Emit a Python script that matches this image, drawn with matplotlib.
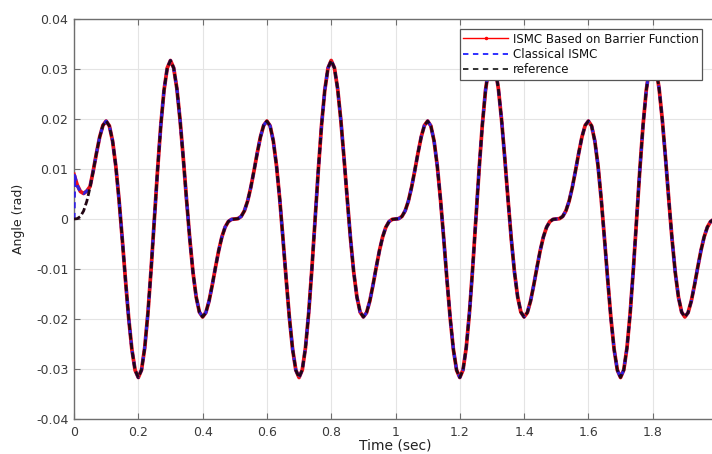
import numpy as np
import matplotlib
matplotlib.use("Agg")
import matplotlib.pyplot as plt
from matplotlib.lines import Line2D

# ---------------- data ----------------
time = np.round(np.arange(0, 2.0001, 0.01), 2)          # s, 0.01 s sampling

# reference angle (rad), sampled every 0.01 s from 0 to 2.0 s
ref_angle = [
    0.00000, 0.00007, 0.00051, 0.00163, 0.00358, 0.00634, 0.00969, 0.01322, 0.01643, 0.01873,
    0.01959, 0.01862, 0.01560, 0.01059, 0.00390, -0.00392, -0.01209, -0.01977, -0.02607, -0.03023,
    -0.03170, -0.03019, -0.02575, -0.01876, -0.00988, 0.00000, 0.00988, 0.01876, 0.02575, 0.03019,
    0.03170, 0.03023, 0.02607, 0.01977, 0.01209, 0.00392, -0.00390, -0.01059, -0.01560, -0.01862,
    -0.01959, -0.01873, -0.01643, -0.01322, -0.00969, -0.00634, -0.00358, -0.00163, -0.00051, -0.00007,
    0.00000, 0.00007, 0.00051, 0.00163, 0.00358, 0.00634, 0.00969, 0.01322, 0.01643, 0.01873,
    0.01959, 0.01862, 0.01560, 0.01059, 0.00390, -0.00392, -0.01209, -0.01977, -0.02607, -0.03023,
    -0.03170, -0.03019, -0.02575, -0.01876, -0.00988, 0.00000, 0.00988, 0.01876, 0.02575, 0.03019,
    0.03170, 0.03023, 0.02607, 0.01977, 0.01209, 0.00392, -0.00390, -0.01059, -0.01560, -0.01862,
    -0.01959, -0.01873, -0.01643, -0.01322, -0.00969, -0.00634, -0.00358, -0.00163, -0.00051, -0.00007,
    0.00000, 0.00007, 0.00051, 0.00163, 0.00358, 0.00634, 0.00969, 0.01322, 0.01643, 0.01873,
    0.01959, 0.01862, 0.01560, 0.01059, 0.00390, -0.00392, -0.01209, -0.01977, -0.02607, -0.03023,
    -0.03170, -0.03019, -0.02575, -0.01876, -0.00988, 0.00000, 0.00988, 0.01876, 0.02575, 0.03019,
    0.03170, 0.03023, 0.02607, 0.01977, 0.01209, 0.00392, -0.00390, -0.01059, -0.01560, -0.01862,
    -0.01959, -0.01873, -0.01643, -0.01322, -0.00969, -0.00634, -0.00358, -0.00163, -0.00051, -0.00007,
    0.00000, 0.00007, 0.00051, 0.00163, 0.00358, 0.00634, 0.00969, 0.01322, 0.01643, 0.01873,
    0.01959, 0.01862, 0.01560, 0.01059, 0.00390, -0.00392, -0.01209, -0.01977, -0.02607, -0.03023,
    -0.03170, -0.03019, -0.02575, -0.01876, -0.00988, 0.00000, 0.00988, 0.01876, 0.02575, 0.03019,
    0.03170, 0.03023, 0.02607, 0.01977, 0.01209, 0.00392, -0.00390, -0.01059, -0.01560, -0.01862,
    -0.01959, -0.01873, -0.01643, -0.01322, -0.00969, -0.00634, -0.00358, -0.00163, -0.00051, -0.00007,
    0.00000,
]

# initial transient of the barrier-function ISMC (t = 0 ... 0.05 s)
barrier_start = [0.0089, 0.0068, 0.0055, 0.0051, 0.0056, 0.0065]
# initial transient of the classical ISMC
classic_start_time = [0.0, 0.002, 0.01, 0.02, 0.03, 0.04, 0.05]
classic_start = [0.0, 0.0087, 0.0067, 0.0054, 0.0051, 0.0056, 0.0065]

n_tr = len(barrier_start)
barrier_time = list(time)
barrier_angle = barrier_start + ref_angle[n_tr:]
classic_time = classic_start_time + list(time[n_tr:])
classic_angle = classic_start + ref_angle[n_tr:]

xticks = [0, 0.2, 0.4, 0.6, 0.8, 1.0, 1.2, 1.4, 1.6, 1.8]
xticklabels = ['0', '0.2', '0.4', '0.6', '0.8', '1', '1.2', '1.4', '1.6', '1.8']
yticks = [-0.04, -0.03, -0.02, -0.01, 0, 0.01, 0.02, 0.03, 0.04]
yticklabels = ['-0.04', '-0.03', '-0.02', '-0.01', '0', '0.01', '0.02', '0.03', '0.04']
labels = ['ISMC Based on Barrier Function', 'Classical ISMC', 'reference']

# ---------------- figure ----------------
plt.rcParams['font.family'] = ['DejaVu Sans']
W, H = 712, 454
fig = plt.figure(figsize=(W / 100, H / 100), dpi=100)
ax = fig.add_axes([74 / W, 35 / H, 643 / W, 400 / H])

ax.plot(barrier_time, barrier_angle, color='#e8101a', lw=2.7, zorder=3)
ax.plot(classic_time, classic_angle, color='#3020e0', lw=2.2,
        linestyle=(0, (2, 1.5)), zorder=4)
ax.plot(time, ref_angle, color='#220614', lw=2.0,
        linestyle=(0, (2.4, 1.1)), zorder=5)

ax.set_xlim(0, 2.0)
ax.set_ylim(-0.04, 0.04)
ax.set_xticks(xticks)
ax.set_xticklabels(xticklabels)
ax.set_yticks(yticks)
ax.set_yticklabels(yticklabels)

ax.grid(True, color='#e4e4e4', lw=0.8)
ax.set_axisbelow(True)
for s in ['left', 'bottom', 'top']:
    ax.spines[s].set_color('#6e6e6e')
    ax.spines[s].set_linewidth(1.0)
ax.spines['right'].set_visible(False)
ax.tick_params(axis='both', direction='in', length=4, width=0.8, color='#6e6e6e',
               labelsize=9, labelcolor='#3a3a3a', top=True)
ax.tick_params(axis='x', pad=5)
ax.tick_params(axis='y', pad=4)

ax.set_xlabel('Time (sec)', fontsize=10, color='#222222', labelpad=0)
ax.set_ylabel('Angle (rad)', fontsize=9, color='#222222', labelpad=8)

handles = [
    Line2D([], [], color='#ff0000', lw=1.0, marker='.', markersize=3),
    Line2D([], [], color='#2020ff', lw=1.3, linestyle=(0, (3, 2.5))),
    Line2D([], [], color='#222222', lw=1.3, linestyle=(0, (3, 2.5))),
]
leg = ax.legend(handles, labels, loc='upper right', bbox_to_anchor=(0.977, 0.975),
                borderaxespad=0, fontsize=8.5, handlelength=3.8, handletextpad=0.4,
                labelspacing=0.2, borderpad=0.3, fancybox=False, framealpha=1)
leg.get_frame().set_edgecolor('#555555')
leg.get_frame().set_linewidth(0.9)
for t in leg.get_texts():
    t.set_color('#111111')

fig.savefig('out.png', dpi=100)
